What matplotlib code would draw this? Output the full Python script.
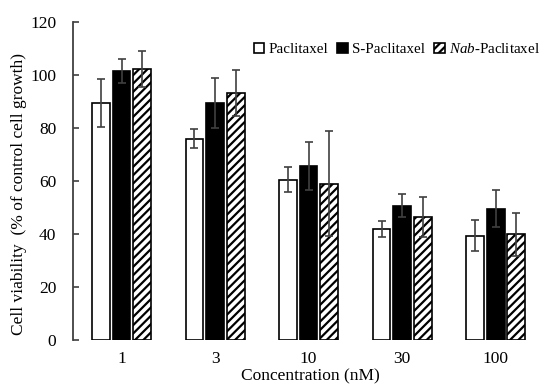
import numpy as np
import matplotlib.pyplot as plt

plt.rcParams['font.family'] = ['Liberation Serif', 'DejaVu Serif']
plt.rcParams['mathtext.fontset'] = 'custom'
plt.rcParams['mathtext.rm'] = 'Liberation Serif'
plt.rcParams['mathtext.it'] = 'Liberation Serif:italic'
plt.rcParams['hatch.linewidth'] = 1.6

concs = ['1', '3', '10', '30', '100']
series = ['Paclitaxel', 'S-Paclitaxel', '$\\it{Nab}$-Paclitaxel']
pac = [89.5, 76, 60.5, 41.8, 39.3]
pac_err = [9, 3.5, 4.6, 3, 5.8]
spac = [101.5, 89.5, 65.6, 50.6, 49.6]
spac_err = [4.4, 9.5, 9, 4.3, 7]
nab = [102.2, 93.2, 59, 46.4, 39.8]
nab_err = [6.8, 8.7, 19.7, 7.4, 8.2]

fig = plt.figure(figsize=(5.48, 3.85), dpi=100)
ax = fig.add_axes([0.133, 0.117, 0.867, 0.826])

x = np.arange(len(concs))
w = 0.19
step = 0.22
ekw = dict(ecolor='#404040', elinewidth=1.2, capsize=3, capthick=1.2)
ax.bar(x - step, pac, w, yerr=pac_err, color='white', edgecolor='black', linewidth=1.2,
       error_kw=ekw, label=series[0])
ax.bar(x, spac, w, yerr=spac_err, color='black', edgecolor='black', linewidth=1.2,
       error_kw=ekw, label=series[1])
ax.bar(x + step, nab, w, yerr=nab_err, color='white', edgecolor='black', linewidth=1.2,
       hatch='////', error_kw=ekw, label=series[2])

ax.set_ylim(0, 120)
ax.set_yticks(range(0, 121, 20))
ax.set_xlim(-0.52, 4.56)
ax.set_xticks(x)
ax.set_xticklabels(concs)
ax.spines[['top', 'right', 'bottom']].set_visible(False)
ax.spines['left'].set_linewidth(1.3)
ax.spines['left'].set_color('#404040')
ax.tick_params(axis='y', direction='in', length=4, width=1.2, color='#404040',
               labelsize=12.5, pad=12)
ax.tick_params(axis='x', length=0, labelsize=12.5, pad=8)
ax.set_xlabel('Concentration (nM)', fontsize=12.5, labelpad=1)
ax.set_ylabel('Cell viability  (% of control cell growth)', fontsize=12.5)
ax.yaxis.set_label_coords(-0.097, 0.46)

ax.legend(loc='upper right', bbox_to_anchor=(1.0, 0.96), frameon=False, fontsize=10.8,
          handlelength=0.7, handleheight=0.7, handletextpad=0.3, columnspacing=0.6,
          ncol=3, borderaxespad=0.1)

plt.savefig('out.png', dpi=100)
